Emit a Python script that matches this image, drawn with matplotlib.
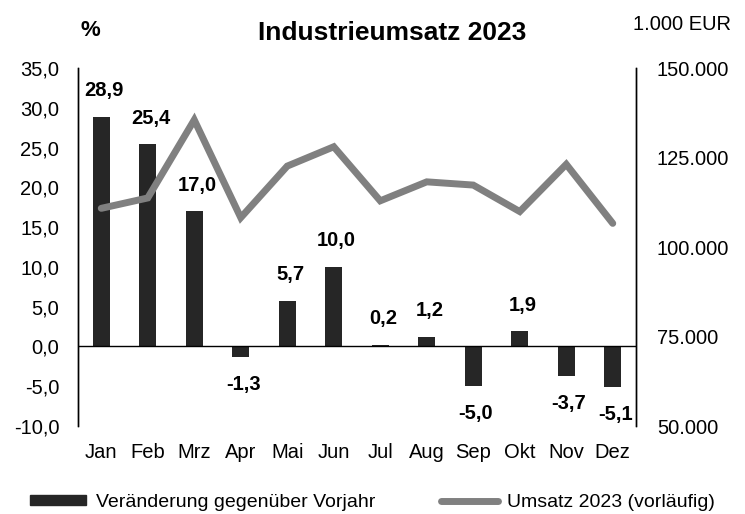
import numpy as np
import matplotlib
matplotlib.use('Agg')
import matplotlib.pyplot as plt
from matplotlib.ticker import FuncFormatter
from matplotlib.lines import Line2D
from matplotlib.patches import Patch

plt.rcParams['font.family'] = ['Liberation Sans', 'DejaVu Sans']

months = ['Jan', 'Feb', 'Mrz', 'Apr', 'Mai', 'Jun', 'Jul', 'Aug', 'Sep', 'Okt', 'Nov', 'Dez']
change_pct = [28.9, 25.4, 17.0, -1.3, 5.7, 10.0, 0.2, 1.2, -5.0, 1.9, -3.7, -5.1]
revenue_teur = [110800, 113700, 135500, 108200, 122600, 128000,
                112900, 118200, 117300, 109900, 123100, 106600]

bar_color = '#262626'
line_color = '#808080'

fig = plt.figure(figsize=(7.45, 5.14), dpi=100)
ax = fig.add_axes([0.1047, 0.1712, 0.749, 0.6965])
ax2 = ax.twinx()

x = np.arange(len(months))
ax.bar(x, change_pct, width=0.37, color=bar_color, zorder=2)
ax.axhline(0, color='black', lw=1, zorder=3)
ax2.plot(x, revenue_teur, color=line_color, lw=5, solid_capstyle='round',
         solid_joinstyle='miter', zorder=4)

# data labels, bold, above positive / below negative bars
for xi, v in zip(x, change_pct):
    lbl = f'{v:.1f}'.replace('.', ',')
    if v >= 0:
        ax.annotate(lbl, (xi, v), xytext=(2, 12), textcoords='offset points',
                    ha='center', va='bottom', fontsize=14.5, fontweight='bold')
    else:
        ax.annotate(lbl, (xi, v), xytext=(2, -13), textcoords='offset points',
                    ha='center', va='top', fontsize=14.5, fontweight='bold')

ax.set_xlim(-0.5, len(months) - 0.5)
ax.set_ylim(-10, 35)
ax.set_yticks(np.arange(-10, 36, 5))
ax.yaxis.set_major_formatter(FuncFormatter(lambda v, p: f'{v:.1f}'.replace('.', ',')))
ax2.set_ylim(50000, 150000)
ax2.set_yticks(np.arange(50000, 150001, 25000))
ax2.yaxis.set_major_formatter(FuncFormatter(lambda v, p: f'{int(v):,}'.replace(',', '.')))

ax.set_xticks(x)
ax.set_xticklabels(months)
for a in (ax, ax2):
    a.tick_params(length=0, labelsize=14.5)
    a.spines['top'].set_visible(False)
    a.spines['bottom'].set_visible(False)
    a.spines['left'].set_linewidth(1)
    a.spines['right'].set_linewidth(1)
ax.tick_params(axis='y', pad=13.5)
ax.tick_params(axis='x', pad=12)
ax2.tick_params(axis='y', pad=15)

fig.text(0.527, 0.935, 'Industrieumsatz 2023', ha='center', va='center',
         fontsize=19, fontweight='bold')
fig.text(0.121, 0.94, '%', ha='center', va='center', fontsize=16, fontweight='bold')
fig.text(0.916, 0.953, '1.000 EUR', ha='center', va='center', fontsize=14.5)

handles = [Patch(facecolor=bar_color, edgecolor=bar_color),
           Line2D([0], [0], color=line_color, lw=5, solid_capstyle='round')]
fig.legend(handles, ['Veränderung gegenüber Vorjahr', 'Umsatz 2023 (vorläufig)'],
           loc='center', bbox_to_anchor=(0.5, 0.022), ncol=2, frameon=False,
           fontsize=14, handlelength=2.9, handleheight=0.45, handletextpad=0.5,
           columnspacing=3.4)

fig.savefig('out.png', dpi=100)
